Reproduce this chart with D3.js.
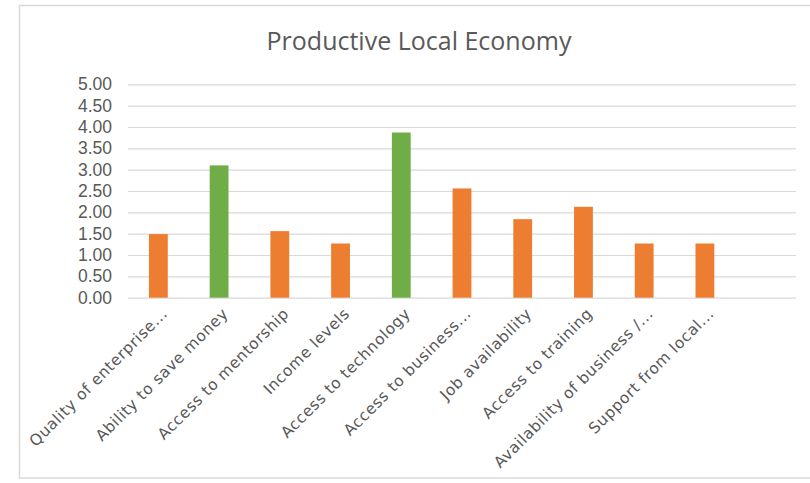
<!DOCTYPE html>
<html>
<head>
<meta charset="utf-8">
<script src="https://cdn.jsdelivr.net/npm/d3@7"></script>
<style>
  html, body { margin: 0; padding: 0; background: #fff; overflow: hidden; }
  svg { display: block; }
</style>
</head>
<body>
<svg id="chart" width="810" height="483"></svg>
<script>
// Survey scores for the productive local economy indicators
const categories = [
  "Quality of enterprise...",
  "Ability to save money",
  "Access to mentorship",
  "Income levels",
  "Access to technology",
  "Access to business...",
  "Job availability",
  "Access to training",
  "Availability of business /...",
  "Support from local...",
  ""
];
const scores = [1.49, 3.10, 1.56, 1.27, 3.87, 2.56, 1.84, 2.13, 1.27, 1.27, null];
const highlighted = ["Ability to save money", "Access to technology"];
const yTicks = [0, 0.5, 1, 1.5, 2, 2.5, 3, 3.5, 4, 4.5, 5];
const title = "Productive Local Economy";

const svg = d3.select("#chart");
const plot = { left: 128, right: 796, top: 84.3, bottom: 297.7 };

// Chart frame
svg.append("rect")
  .attr("x", 19.5).attr("y", 5.5)
  .attr("width", 820).attr("height", 472.5)
  .attr("fill", "#fff")
  .attr("stroke", "#d9d9d9").attr("stroke-width", 1.5);

// Title
svg.append("text")
  .attr("x", 419).attr("y", 50)
  .attr("text-anchor", "middle")
  .attr("font-family", "'Open Sans', sans-serif")
  .attr("font-size", 25)
  .attr("fill", "#595959")
  .text(title);

const x = d3.scaleBand()
  .domain(categories.map((c, i) => i))
  .range([plot.left, plot.right])
  .paddingInner(0.69)
  .paddingOuter(0.345);

const y = d3.scaleLinear()
  .domain([0, 5])
  .range([plot.bottom, plot.top]);

// Horizontal gridlines and value labels
const yAxis = d3.axisLeft(y)
  .tickValues(yTicks)
  .tickSize(-(plot.right - plot.left))
  .tickPadding(16)
  .tickFormat(d3.format(".2f"));

const gy = svg.append("g")
  .attr("transform", `translate(${plot.left},0)`)
  .call(yAxis);
gy.select(".domain").remove();
gy.selectAll(".tick line")
  .attr("stroke", "#d9d9d9")
  .attr("stroke-width", 1.2);
gy.selectAll(".tick text")
  .attr("font-family", "'Liberation Sans', Arial, sans-serif")
  .attr("font-size", 17.5)
  .attr("fill", "#595959");

// Bars
svg.append("g")
  .selectAll("rect")
  .data(categories.map((c, i) => ({ c, i, v: scores[i] })).filter(d => d.v != null))
  .join("rect")
  .attr("x", d => x(d.i))
  .attr("width", x.bandwidth())
  .attr("y", d => y(d.v))
  .attr("height", d => y(0) - y(d.v))
  .attr("fill", d => highlighted.includes(d.c) ? "#70ad47" : "#ed7d31");

// Category labels, rotated
const xAxis = d3.axisBottom(x)
  .tickSize(0)
  .tickFormat(i => categories[i]);
const gx = svg.append("g")
  .attr("transform", `translate(0,${plot.bottom})`)
  .call(xAxis);
gx.select(".domain").remove();
gx.selectAll(".tick text")
  .attr("font-family", "'DejaVu Sans', sans-serif")
  .attr("font-size", 15.5)
  .attr("letter-spacing", 0.55)
  .attr("fill", "#595959")
  .attr("text-anchor", "end")
  .attr("dy", null)
  .attr("y", null)
  .attr("transform", "translate(10,17) rotate(-45)");
</script>
</body>
</html>
